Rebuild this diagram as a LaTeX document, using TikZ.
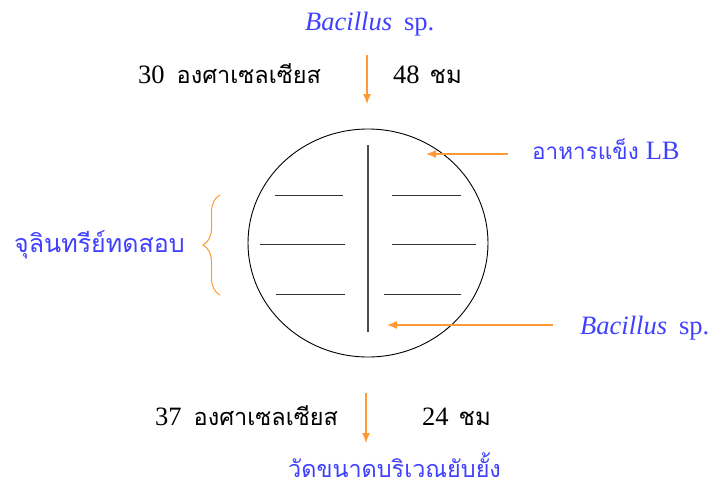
\documentclass[tikz,border=0pt]{standalone}
\usepackage{fontspec}
\setmainfont{Liberation Serif}
\newfontfamily\thai[Script=Thai]{Loma}
\usetikzlibrary{shapes.geometric,arrows.meta,decorations.pathreplacing}
\definecolor{tblue}{RGB}{64,64,255}
\definecolor{torange}{RGB}{255,153,51}
\tikzset{
  lbl/.style={inner sep=0pt, anchor=base west, font=\fontsize{26.5}{30}\selectfont},
  blbl/.style={lbl, text=tblue},
  oarrow/.style={draw=torange, line width=1.4pt, -{Latex[length=10pt,width=8pt]}},
  streak/.style={draw=black!80, line width=1pt}
}
\newcommand{\thtxt}[2]{{\thai\fontsize{#1}{30}\selectfont #2}}
\begin{document}
\begin{tikzpicture}[x=1pt,y=-1pt]
\useasboundingbox[fill=white] (0,0) rectangle (717,493);
% top labels
\node[blbl] (bac1) at (305,30) {\textit{Bacillus}\hspace{12pt}sp.};
\node[lbl] (t30) at (138,83) {30\hspace{12pt}\thtxt{23.5}{องศาเซลเซียส}};
\node[lbl] (h48) at (393,83) {48\hspace{10pt}\thtxt{24}{ชม}};
\coordinate (a1s) at (367,55);
\coordinate (a1e) at (367,104);
\draw[oarrow] (a1s) -- (a1e);
% plate
\node[draw, ellipse, line width=0.9pt, inner sep=0pt, minimum width=240pt, minimum height=228pt] (plate) at (368,243) {};
\coordinate (vtop) at (368,145);
\coordinate (vbot) at (368,332);
\draw[draw=black!70, line width=1.1pt] (vtop) -- (vbot);
\coordinate (l1a) at (275,195); \coordinate (l1b) at (343,195);
\coordinate (r1a) at (392,195); \coordinate (r1b) at (461,195);
\coordinate (l2a) at (260,244); \coordinate (l2b) at (345,244);
\coordinate (r2a) at (392,244); \coordinate (r2b) at (476,244);
\coordinate (l3a) at (276,294); \coordinate (l3b) at (345,294);
\coordinate (r3a) at (384,294); \coordinate (r3b) at (461,294);
\draw[streak] (l1a) -- (l1b);
\draw[streak] (r1a) -- (r1b);
\draw[streak] (l2a) -- (l2b);
\draw[streak] (r2a) -- (r2b);
\draw[streak] (l3a) -- (l3b);
\draw[streak] (r3a) -- (r3b);
% right labels and arrows
\node[blbl] (lb) at (532,159) {\thtxt{22.5}{อาหารแข็ง}\hspace{7pt}LB};
\coordinate (lbs) at (508,154);
\coordinate (lbe) at (426,154);
\draw[oarrow] (lbs) -- (lbe);
\node[blbl] (bac2) at (580,334) {\textit{Bacillus}\hspace{12pt}sp.};
\coordinate (b2s) at (553,325);
\coordinate (b2e) at (387,325);
\draw[oarrow] (b2s) -- (b2e);
% left label and brace
\node[blbl] (test) at (14,252) {\thtxt{25}{จุลินทรีย์ทดสอบ}};
\coordinate (brb) at (220,295);
\coordinate (brt) at (220,195);
\draw[draw=torange, line width=1pt, decorate, decoration={brace, amplitude=17pt}] (brb) -- (brt);
% bottom
\node[lbl] (t37) at (155,425) {37\hspace{12pt}\thtxt{23.5}{องศาเซลเซียส}};
\node[lbl] (h24) at (422,425) {24\hspace{10pt}\thtxt{24}{ชม}};
\coordinate (a2s) at (366,393);
\coordinate (a2e) at (366,443);
\draw[oarrow] (a2s) -- (a2e);
\node[blbl] (meas) at (288,477) {\thtxt{23.4}{วัดขนาดบริเวณยับยั้ง}};
\end{tikzpicture}
\end{document}
